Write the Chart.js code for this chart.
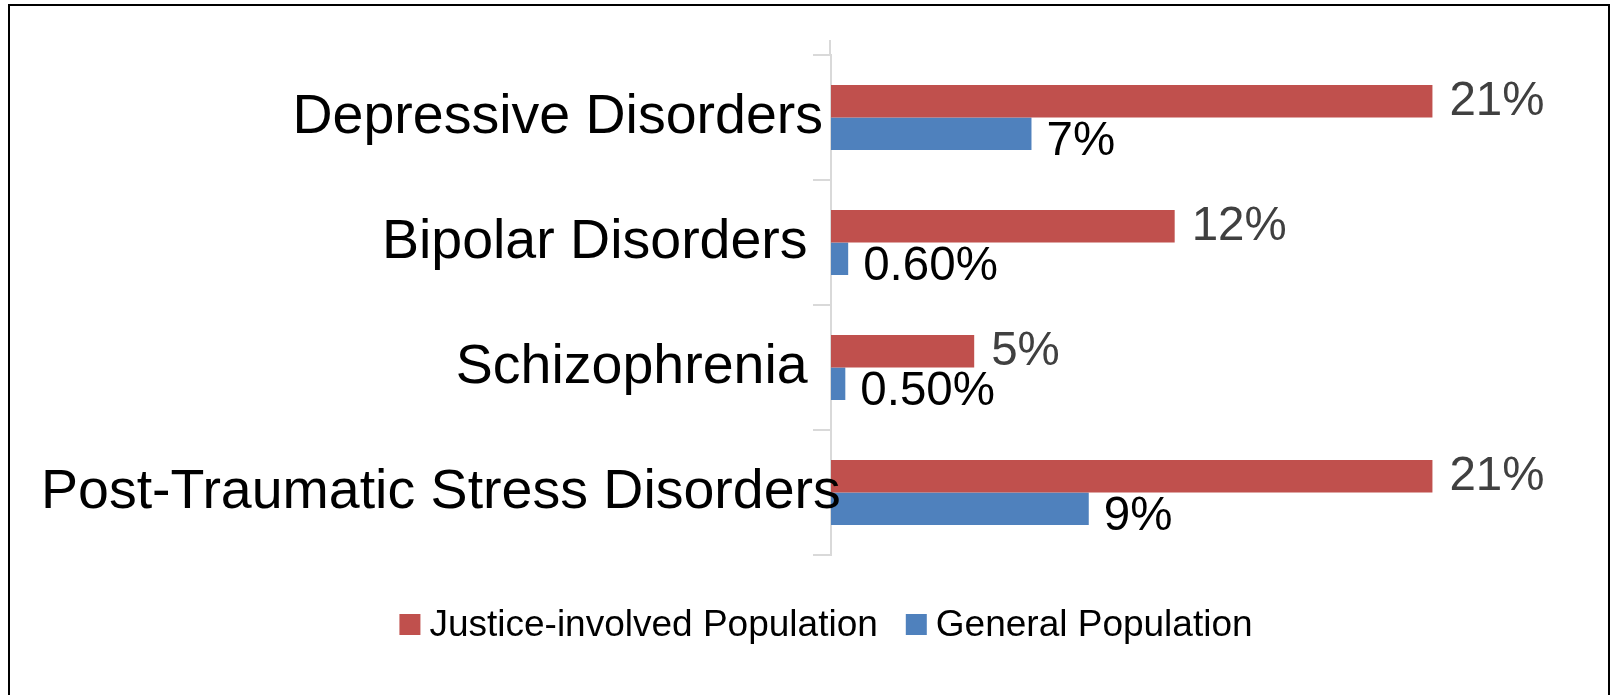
<!DOCTYPE html>
<html>
<head>
<meta charset="utf-8">
<script src="https://cdn.jsdelivr.net/npm/chart.js@4.4.1/dist/chart.umd.min.js"></script>
<style>
  html, body { margin: 0; padding: 0; background: #fff; overflow: hidden; }
  #wrap { position: relative; width: 1610px; height: 695px; }
  #frame { position: absolute; left: 8px; top: 4px; height: 720px;
           border: 2px solid #000; box-sizing: border-box; width: 1602px; pointer-events: none; }
  canvas { position: absolute; left: 0; top: 0; }
</style>
</head>
<body>
<div id="wrap">
  <canvas id="c" width="1610" height="695"></canvas>
  <div id="frame"></div>
</div>
<script>
// ---- data ----
const categories = ["Depressive Disorders", "Bipolar Disorders ", "Schizophrenia ", "Post-Traumatic Stress Disorders"];
const seriesNames = ["Justice-involved Population", "General Population"];
const justiceValues = [21, 12, 5, 21];
const generalValues = [7, 0.6, 0.5, 9];

const RED = "#C0504D";
const BLUE = "#4F81BD";
const FONT = "'Liberation Sans', Arial, sans-serif";

function fmtPct(v) {
  return (v < 1 ? v.toFixed(2) : String(Math.round(v))) + "%";
}

// category labels drawn next to the y axis
const catLabelPlugin = {
  id: "catLabels",
  afterDraw(chart) {
    const ctx = chart.ctx;
    const ys = chart.scales.y;
    const left = chart.chartArea.left;
    ctx.save();
    ctx.font = "55.5px " + FONT;
    ctx.fillStyle = "#000";
    ctx.textBaseline = "middle";
    chart.data.labels.forEach((lab, i) => {
      const y = ys.getPixelForValue(i);
      const w = ctx.measureText(lab).width;
      const right = left - 8;
      if (right - w < 41) {
        ctx.textAlign = "left";
        ctx.fillText(lab, 41, y);
      } else {
        ctx.textAlign = "right";
        ctx.fillText(lab, right, y);
      }
    });
    // small extension of the axis line above the first tick
    ctx.strokeStyle = "#D9D9D9";
    ctx.lineWidth = 2;
    ctx.beginPath();
    ctx.moveTo(left - 1, chart.chartArea.top - 15);
    ctx.lineTo(left - 1, chart.chartArea.top);
    ctx.stroke();
    ctx.restore();
  }
};

// value labels at bar ends
const valueLabelPlugin = {
  id: "valueLabels",
  afterDatasetsDraw(chart) {
    const ctx = chart.ctx;
    ctx.save();
    ctx.font = "47.5px " + FONT;
    ctx.textBaseline = "middle";
    ctx.textAlign = "left";
    chart.data.datasets.forEach((ds, di) => {
      const meta = chart.getDatasetMeta(di);
      ctx.fillStyle = di === 0 ? "#404040" : "#000000";
      const dx = di === 0 ? 17 : 15;
      const dy = di === 0 ? 1 : 8;
      meta.data.forEach((bar, i) => {
        ctx.fillText(fmtPct(ds.data[i]), bar.x + dx, bar.y + dy);
      });
    });
    ctx.restore();
  }
};

// legend at bottom
const legendPlugin = {
  id: "customLegend",
  afterDraw(chart) {
    const ctx = chart.ctx;
    ctx.save();
    ctx.font = "37px " + FONT;
    ctx.textBaseline = "middle";
    ctx.textAlign = "left";
    const box = 21, gapText = 9, gapItem = 28;
    const items = chart.data.datasets.map(d => ({ text: d.label, color: d.backgroundColor, w: ctx.measureText(d.label).width }));
    let total = 0;
    items.forEach((it, i) => { total += box + gapText + it.w + (i < items.length - 1 ? gapItem : 0); });
    const cx = 826;
    const cy = 624.5;
    let x = cx - total / 2;
    items.forEach(it => {
      ctx.fillStyle = it.color;
      ctx.fillRect(x, cy - box / 2, box, box);
      x += box + gapText;
      ctx.fillStyle = "#000";
      ctx.fillText(it.text, x, cy + 1);
      x += it.w + gapItem;
    });
    ctx.restore();
  }
};

new Chart(document.getElementById("c"), {
  type: "bar",
  data: {
    labels: categories,
    datasets: [
      { label: seriesNames[0], data: justiceValues, backgroundColor: RED },
      { label: seriesNames[1], data: generalValues, backgroundColor: BLUE }
    ]
  },
  options: {
    indexAxis: "y",
    responsive: false,
    animation: false,
    events: [],
    layout: { padding: { left: 0, right: 63, top: 55, bottom: 140 } },
    datasets: { bar: { categoryPercentage: 0.52, barPercentage: 1.0 } },
    plugins: { legend: { display: false }, tooltip: { enabled: false } },
    scales: {
      x: { display: false, min: 0, max: 25 },
      y: {
        display: true,
        ticks: { display: false },
        grid: { display: true, drawOnChartArea: false, drawTicks: true, tickLength: 18, color: "#D9D9D9", lineWidth: 2, offset: true },
        border: { display: true, color: "#D9D9D9", width: 2 },
        afterFit(scale) { scale.width = 831; }
      }
    }
  },
  plugins: [catLabelPlugin, valueLabelPlugin, legendPlugin]
});
</script>
</body>
</html>
